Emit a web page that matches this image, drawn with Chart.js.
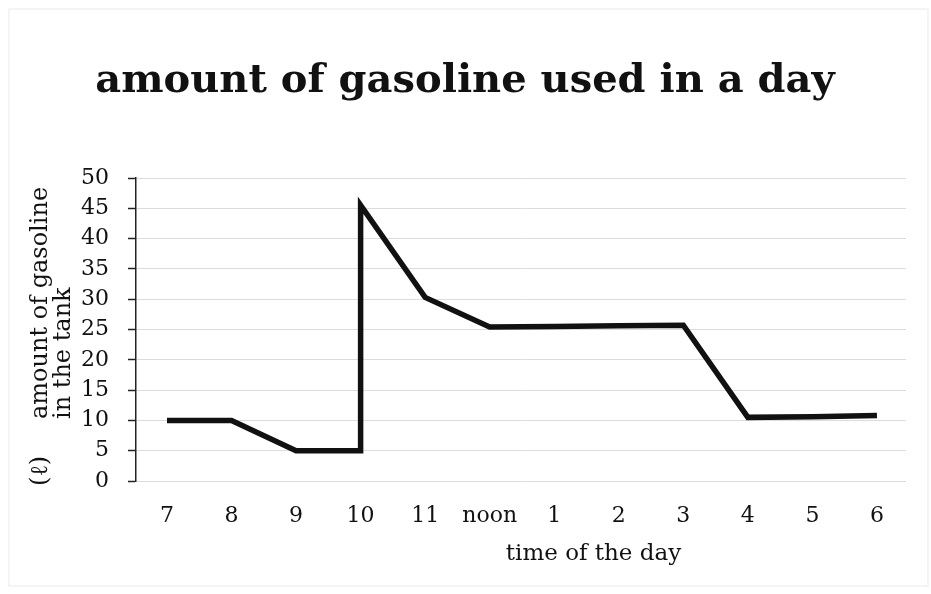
<!DOCTYPE html>
<html>
<head>
<meta charset="utf-8">
<script src="https://cdn.jsdelivr.net/npm/chart.js@4/dist/chart.umd.min.js"></script>
<style>
  html, body { margin: 0; padding: 0; background: #ffffff; }
  #wrap { width: 931px; height: 594px; position: relative; }
</style>
</head>
<body>
<div id="wrap"><canvas id="c" width="931" height="594"></canvas></div>
<script>
// ---- data ----
const titleText = "amount of gasoline used in a day";
const timeLabels = ["7", "8", "9", "10", "11", "noon", "1", "2", "3", "4", "5", "6"];
// x positions are category indexes (10 o'clock appears twice: tank refilled)
const pointIndex = [0, 1, 2, 3, 3, 4, 5, 6, 7, 8, 9, 10, 11];
const gasolineLitres = [10, 10, 5, 5, 45.5, 30.3, 25.4, 25.5, 25.6, 25.7, 10.5, 10.6, 10.8];
const yTicks = [0, 5, 10, 15, 20, 25, 30, 35, 40, 45, 50];
const yTitleLines = ["amount of gasoline", "in the tank"];
const yUnit = "(\u2113)";
const xTitle = "time of the day";

const SERIF = "'DejaVu Serif', 'Liberation Serif', serif";

const points = pointIndex.map((x, i) => ({ x: x, y: gasolineLitres[i] }));

const axisTitles = {
  id: 'axisTitles',
  beforeDraw(chart) {
    const ctx = chart.ctx;
    ctx.save();
    ctx.fillStyle = '#ffffff';
    ctx.fillRect(0, 0, chart.width, chart.height);
    ctx.strokeStyle = '#f1f1f1';
    ctx.lineWidth = 1.5;
    ctx.strokeRect(9, 9, chart.width - 12, chart.height - 17);
    ctx.restore();
  },
  afterDraw(chart) {
    const ctx = chart.ctx;
    ctx.save();
    ctx.fillStyle = '#111111';
    ctx.font = "24px " + SERIF;
    ctx.textBaseline = 'alphabetic';
    // y-axis title, rotated
    ctx.save();
    ctx.translate(47, 486);
    ctx.rotate(-Math.PI / 2);
    ctx.textAlign = 'left';
    ctx.fillText(yUnit, 0, 0);
    ctx.fillText(yTitleLines[0], 67, 0);
    ctx.fillText(yTitleLines[1], 67, 23);
    ctx.restore();
    // x-axis title
    ctx.textAlign = 'center';
    ctx.font = "23px " + SERIF;
    const xs = chart.scales.x;
    const cx = (xs.getPixelForValue(6) + xs.getPixelForValue(7)) / 2 + 7;
    ctx.fillText(xTitle, cx, 560);
    ctx.restore();
  }
};

new Chart(document.getElementById('c'), {
  type: 'line',
  data: {
    datasets: [{
      label: 'gasoline',
      data: points,
      borderColor: '#111111',
      borderWidth: 5.5,
      pointRadius: 0,
      tension: 0,
      fill: false,
      borderJoinStyle: 'miter',
      borderCapStyle: 'butt'
    }]
  },
  options: {
    responsive: false,
    animation: false,
    devicePixelRatio: 1,
    layout: { padding: { top: 0, right: 25, bottom: 0, left: 24 } },
    plugins: {
      legend: { display: false },
      tooltip: { enabled: false },
      title: {
        display: true,
        text: titleText,
        color: '#111111',
        font: { family: SERIF, size: 40, weight: 'bold' },
        padding: { top: 58, bottom: 72 }
      }
    },
    scales: {
      x: {
        type: 'linear',
        min: -0.48,
        max: 11.45,
        afterBuildTicks(scale) {
          scale.ticks = timeLabels.map((_, i) => ({ value: i }));
        },
        afterFit(scale) { scale.height = 113; },
        grid: { display: false, drawTicks: false },
        border: { display: false },
        ticks: {
          autoSkip: false,
          maxRotation: 0,
          padding: 22,
          color: '#111111',
          font: { family: SERIF, size: 22 },
          callback: (v) => timeLabels[Math.round(v)]
        }
      },
      y: {
        min: 0,
        max: 50,
        afterBuildTicks(scale) {
          scale.ticks = yTicks.map(v => ({ value: v }));
        },
        afterFit(scale) { scale.width = 112; },
        grid: {
          color: '#dcdcdc',
          lineWidth: 1,
          tickColor: '#222222',
          tickLength: 8,
          tickWidth: 1.5
        },
        border: { display: true, color: '#222222', width: 1.5 },
        ticks: {
          padding: 19,
          color: '#111111',
          font: { family: SERIF, size: 22 }
        }
      }
    }
  },
  plugins: [axisTitles]
});
</script>
</body>
</html>
